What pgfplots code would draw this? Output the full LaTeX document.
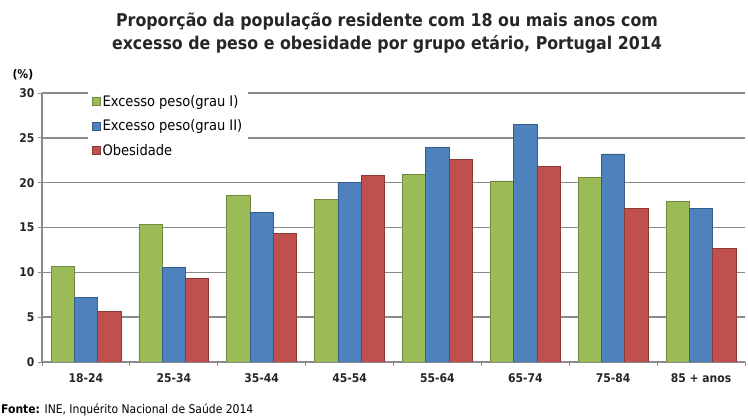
\documentclass[border=0pt]{standalone}
\usepackage{pgfplots}
\pgfplotsset{compat=1.18}
\usepackage{fontspec}
\setmainfont{DejaVu Sans}
\newfontfamily\condfont{DejaVu Sans Condensed}
\definecolor{cg}{HTML}{9BBB59}
\definecolor{cgd}{HTML}{71893F}
\definecolor{cb}{HTML}{4F81BD}
\definecolor{cbd}{HTML}{385D8A}
\definecolor{cr}{HTML}{C0504D}
\definecolor{crd}{HTML}{8C3836}
\definecolor{gl}{HTML}{8A8A8A}
\begin{document}
\begin{tikzpicture}[x=1pt,y=1pt]
\path (0,0) rectangle (748,419);
\node[font=\condfont\bfseries\fontsize{17.6}{23}\selectfont, align=center, text=black!85] at (387,386)
  {Proporção da população residente com 18 ou mais anos com\\excesso de peso e obesidade por grupo etário, Portugal 2014};
\node[anchor=west, font=\condfont\bfseries\fontsize{12}{14}\selectfont] at (9,344) {(\%)};
\node[anchor=west, font=\condfont\fontsize{12}{14}\selectfont, inner sep=0pt] at (1,9) {\textbf{Fonte:} INE, Inquérito Nacional de Saúde 2014};
\begin{axis}[
  at={(42pt,57pt)}, anchor=south west,
  scale only axis, width=703pt, height=269pt,
  xmin=-0.5, xmax=7.5, ymin=0, ymax=30,
  ytick={0,5,...,30},
  xtick={-0.5,0.5,...,7.5},
  x tick label as interval,
  xticklabels={18-24,25-34,35-44,45-54,55-64,65-74,75-84,85 + anos},
  axis x line*=bottom, axis y line*=left,
  axis line style={gl, line width=1.2pt},
  tick style={gl, line width=0.9pt},
  tick align=outside, major tick length=4pt,
  ymajorgrids, grid style={gl, line width=1.4pt},
  /pgf/number format/assume math mode=true,
  ticklabel style={font=\condfont\bfseries\fontsize{12}{14}\selectfont, text=black!85},
  xticklabel style={yshift=-4pt},
  ybar=0pt, bar width=0.265,
  legend style={at={(0.065,1.015)}, anchor=north west, draw=none, fill=white,
    font=\condfont\fontsize{14.5}{16}\selectfont, row sep=8pt, inner xsep=4pt, inner ysep=4pt},
  legend cell align=left,
  legend image code/.code={\fill[#1] (0pt,-4pt) rectangle (8pt,4pt);},
]
\addplot[fill=cg, draw=cgd, line width=0.7pt] coordinates {(0,10.7) (1,15.3) (2,18.6) (3,18.1) (4,20.9) (5,20.2) (6,20.6) (7,17.9)};
\addplot[fill=cb, draw=cbd, line width=0.7pt] coordinates {(0,7.2) (1,10.5) (2,16.7) (3,20.0) (4,23.9) (5,26.5) (6,23.2) (7,17.1)};
\addplot[fill=cr, draw=crd, line width=0.7pt] coordinates {(0,5.6) (1,9.3) (2,14.3) (3,20.8) (4,22.6) (5,21.8) (6,17.1) (7,12.7)};
\legend{Excesso peso(grau I), Excesso peso(grau II), Obesidade}
\end{axis}
\end{tikzpicture}
\end{document}
